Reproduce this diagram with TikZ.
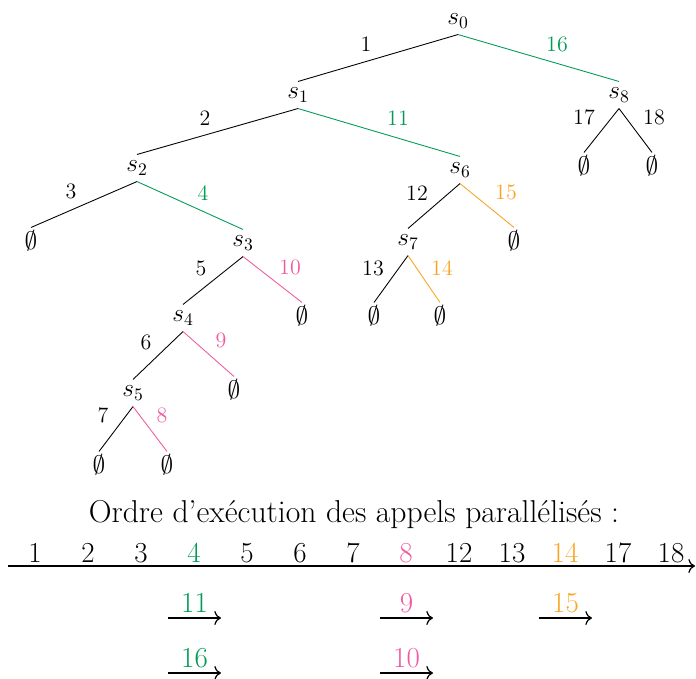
\documentclass[tikz,border=0pt]{standalone}
\usepackage{amssymb}
\usetikzlibrary{arrows.meta}
\definecolor{callgreen}{RGB}{0,155,85}
\definecolor{callpink}{RGB}{240,90,160}
\definecolor{callorange}{RGB}{248,165,35}
\tikzset{
  st/.style={inner sep=0pt,minimum height=15pt,font=\fontsize{14.4}{16}\selectfont},
  elab/.style={inner sep=0pt,font=\fontsize{12.5}{14}\selectfont},
  br/.style={line width=0.5pt},
  brg/.style={br,callgreen},
  brp/.style={br,callpink},
  bro/.style={br,callorange},
  axe/.style={line width=0.7pt,-{To[scale=1.2]}},
  olab/.style={inner sep=0pt,anchor=base,font=\fontsize{16.5}{19}\selectfont},
  par/.style={line width=0.7pt,-{To[scale=1.2]}},
  plab/.style={inner sep=0pt,anchor=base,yshift=3pt,font=\fontsize{16.5}{19}\selectfont}
}
\begin{document}
\begin{tikzpicture}
  \useasboundingbox (0,0) rectangle (13.92,-13.56);
  % arbre des appels
  \node[st] (s0) at (9.16,-0.42) {$s_0$};
  \node[st] (s1) at (5.96,-1.90) {$s_1$}; \node[st] (s8) at (12.38,-1.90) {$s_8$};
  \node[st] (s2) at (2.74,-3.36) {$s_2$}; \node[st] (s6) at (9.20,-3.40) {$s_6$};
  \node[st] (e81) at (11.68,-3.32) {$\emptyset$}; \node[st] (e82) at (13.04,-3.32) {$\emptyset$};
  \node[st] (e2) at (0.62,-4.82) {$\emptyset$}; \node[st] (s3) at (4.86,-4.86) {$s_3$};
  \node[st] (s7) at (8.16,-4.84) {$s_7$}; \node[st] (e6) at (10.28,-4.82) {$\emptyset$};
  \node[st] (s4) at (3.66,-6.36) {$s_4$}; \node[st] (e3) at (6.04,-6.32) {$\emptyset$};
  \node[st] (e71) at (7.48,-6.32) {$\emptyset$}; \node[st] (e72) at (8.80,-6.32) {$\emptyset$};
  \node[st] (s5) at (2.66,-7.86) {$s_5$}; \node[st] (e4) at (4.68,-7.80) {$\emptyset$};
  \node[st] (e51) at (1.98,-9.30) {$\emptyset$}; \node[st] (e52) at (3.34,-9.30) {$\emptyset$};
  \draw[br] (s0.south) -- (s1.north); \draw[brg] (s0.south) -- (s8.north);
  \draw[br] (s1.south) -- (s2.north); \draw[brg] (s1.south) -- (s6.north);
  \draw[br] (s8.south) -- (e81.north); \draw[br] (s8.south) -- (e82.north);
  \draw[br] (s2.south) -- (e2.north); \draw[brg] (s2.south) -- (s3.north);
  \draw[br] (s6.south) -- (s7.north); \draw[bro] (s6.south) -- (e6.north);
  \draw[br] (s3.south) -- (s4.north); \draw[brp] (s3.south) -- (e3.north);
  \draw[br] (s7.south) -- (e71.north); \draw[bro] (s7.south) -- (e72.north);
  \draw[br] (s4.south) -- (s5.north); \draw[brp] (s4.south) -- (e4.north);
  \draw[br] (s5.south) -- (e51.north); \draw[brp] (s5.south) -- (e52.north);
  % numeros des appels
  \node[elab] (l1) at (7.32,-0.88) {1}; \node[elab,text=callgreen] (l16) at (11.14,-0.88) {16};
  \node[elab] (l2) at (4.10,-2.36) {2}; \node[elab,text=callgreen] (l11) at (7.96,-2.36) {11};
  \node[elab] (l17) at (11.68,-2.34) {17}; \node[elab] (l18) at (13.08,-2.34) {18};
  \node[elab] (l3) at (1.42,-3.82) {3}; \node[elab,text=callgreen] (l4) at (4.06,-3.86) {4};
  \node[elab] (l12) at (8.34,-3.86) {12}; \node[elab,text=callorange] (l15) at (10.12,-3.84) {15};
  \node[elab] (l5) at (4.02,-5.36) {5}; \node[elab,text=callpink] (l10) at (5.80,-5.34) {10};
  \node[elab] (l13) at (7.46,-5.36) {13}; \node[elab,text=callorange] (l14) at (8.84,-5.36) {14};
  \node[elab] (l6) at (2.92,-6.84) {6}; \node[elab,text=callpink] (l9) at (4.42,-6.80) {9};
  \node[elab] (l7) at (2.06,-8.30) {7}; \node[elab,text=callpink] (l8) at (3.24,-8.30) {8};
  % ordre d'execution
  \node[olab,font=\fontsize{18}{21}\selectfont] (titre) at (7.08,-10.44) {Ordre d'ex\'ecution des appels parall\'elis\'es :};
  \coordinate (ax0) at (0.16,-11.32); \coordinate (ax1) at (13.90,-11.32);
  \draw[axe] (ax0) -- (ax1);
  \foreach \lab/\col [count=\i] in {1/black,2/black,3/black,4/callgreen,5/black,6/black,7/black,8/callpink,12/black,13/black,14/callorange,17/black,18/black}
    \node[olab,text=\col] (o\i) at ({0.70+1.06*(\i-1)},-11.24) {\lab};
  % appels en parallele
  \coordinate (p11a) at (3.36,-12.36); \coordinate (p11b) at (4.42,-12.36);
  \coordinate (p9a) at (7.60,-12.36); \coordinate (p9b) at (8.66,-12.36);
  \coordinate (p15a) at (10.78,-12.36); \coordinate (p15b) at (11.84,-12.36);
  \coordinate (p16a) at (3.36,-13.46); \coordinate (p16b) at (4.42,-13.46);
  \coordinate (p10a) at (7.60,-13.46); \coordinate (p10b) at (8.66,-13.46);
  \draw[par] (p11a) -- node[plab,text=callgreen] (c11) {11} (p11b);
  \draw[par] (p9a) -- node[plab,text=callpink] (c9) {9} (p9b);
  \draw[par] (p15a) -- node[plab,text=callorange] (c15) {15} (p15b);
  \draw[par] (p16a) -- node[plab,text=callgreen] (c16) {16} (p16b);
  \draw[par] (p10a) -- node[plab,text=callpink] (c10) {10} (p10b);
\end{tikzpicture}
\end{document}
